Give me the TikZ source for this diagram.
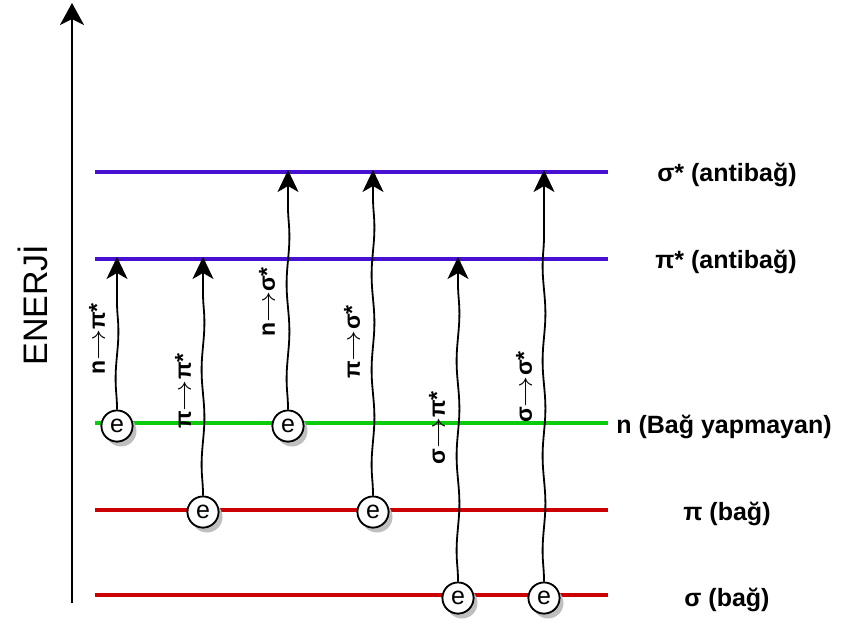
\documentclass[tikz,border=0pt]{standalone}
\usepackage{fontspec}
\setmainfont{Liberation Sans}
\usetikzlibrary{arrows.meta,decorations.pathmorphing}
\definecolor{antiblue}{RGB}{72,16,210}
\definecolor{nongreen}{RGB}{10,204,10}
\definecolor{bondred}{RGB}{204,0,0}
\begin{document}
\begin{tikzpicture}[x=1pt,y=-1pt,
  level/.style={line width=3.4pt},
  lvlabel/.style={font=\fontsize{25}{29}\selectfont\bfseries, anchor=center, inner sep=0pt},
  elec/.style={circle, draw=black, line width=1.7pt, fill=white, minimum size=31pt, inner sep=0pt, font=\fontsize{25}{28}\selectfont},
  shadowc/.style={circle, fill=black!25, minimum size=31pt, inner sep=0pt},
  trans/.style={draw=black, line width=1.8pt, -{Stealth[length=22pt,width=21pt,inset=6pt]},
    decorate, decoration={snake, amplitude=1.4pt, segment length=95pt, post length=22pt, pre length=1pt}},
  tlabel/.style={rotate=90, font=\fontsize{23}{26}\selectfont\bfseries, inner sep=0pt},
  axisarrow/.style={draw=black, line width=1.8pt, -{Stealth[length=22pt,width=24pt,inset=6pt]}}
]
\useasboundingbox (0,0) rectangle (842,624);

% energy axis
\coordinate (axb) at (72,603);
\coordinate (axt) at (72,3);
\draw[axisarrow] (axb) -- (axt);
\node[rotate=90, font=\fontsize{34}{40}\selectfont, inner sep=0pt] (enerji) at (33,305) {ENERJİ};

% levels
\coordinate (ssa) at (95,172); \coordinate (ssb) at (608,172);
\coordinate (psa) at (95,259); \coordinate (psb) at (608,259);
\coordinate (na)  at (95,423); \coordinate (nb)  at (608,423);
\coordinate (pa)  at (95,510); \coordinate (pb)  at (608,510);
\coordinate (sa)  at (95,595); \coordinate (sb)  at (608,595);
\draw[level, antiblue] (ssa) -- (ssb);
\draw[level, antiblue] (psa) -- (psb);
\draw[level, nongreen] (na) -- (nb);
\draw[level, bondred] (pa) -- (pb);
\draw[level, bondred] (sa) -- (sb);

% level labels
\node[lvlabel] (lss) at (727,175) {σ* (antibağ)};
\node[lvlabel] (lps) at (726,262) {π* (antibağ)};
\node[lvlabel] (ln)  at (724,427) {n (Bağ yapmayan)};
\node[lvlabel] (lp)  at (727,514) {π (bağ)};
\node[lvlabel] (ls)  at (727,600) {σ (bağ)};

% electron shadows
\foreach \x/\y in {117/426, 203/512, 288/426, 373/512, 458/598, 544/598}
  \node[shadowc] at (\x+4,\y+5) {};

% electrons
\coordinate (e1p) at (117,426);
\coordinate (e2p) at (203,512);
\coordinate (e3p) at (288,426);
\coordinate (e4p) at (373,512);
\coordinate (e5p) at (458,598);
\coordinate (e6p) at (544,598);

\node[elec] (e1) at (e1p) {e};
\node[elec] (e2) at (e2p) {e};
\node[elec] (e3) at (e3p) {e};
\node[elec] (e4) at (e4p) {e};
\node[elec] (e5) at (e5p) {e};
\node[elec] (e6) at (e6p) {e};

% transitions
\draw[trans] (e1.north) -- ([yshift=2pt]e1.north |- psa);
\draw[trans] (e2.north) -- ([yshift=2pt]e2.north |- psa);
\draw[trans] (e3.north) -- ([yshift=2pt]e3.north |- ssa);
\draw[trans] (e4.north) -- ([yshift=2pt]e4.north |- ssa);
\draw[trans] (e5.north) -- ([yshift=2pt]e5.north |- psa);
\draw[trans] (e6.north) -- ([yshift=2pt]e6.north |- ssa);

% electrons on top of the arrows
\node[elec] at (e1p) {e};
\node[elec] at (e2p) {e};
\node[elec] at (e3p) {e};
\node[elec] at (e4p) {e};
\node[elec] at (e5p) {e};
\node[elec] at (e6p) {e};

% transition labels
\newcommand{\tarr}{\scalebox{1.25}[1]{$\rightarrow$}}
\node[tlabel] (t1) at (97,339) {n\tarr π*};
\node[tlabel] (t2) at (183,391) {π\tarr π*};
\node[tlabel] (t3) at (267,302) {n\tarr σ*};
\node[tlabel] (t4) at (352,342) {π\tarr σ*};
\node[tlabel] (t5) at (437,428) {σ\tarr π*};
\node[tlabel] (t6) at (524,387) {σ\tarr σ*};
\end{tikzpicture}
\end{document}
